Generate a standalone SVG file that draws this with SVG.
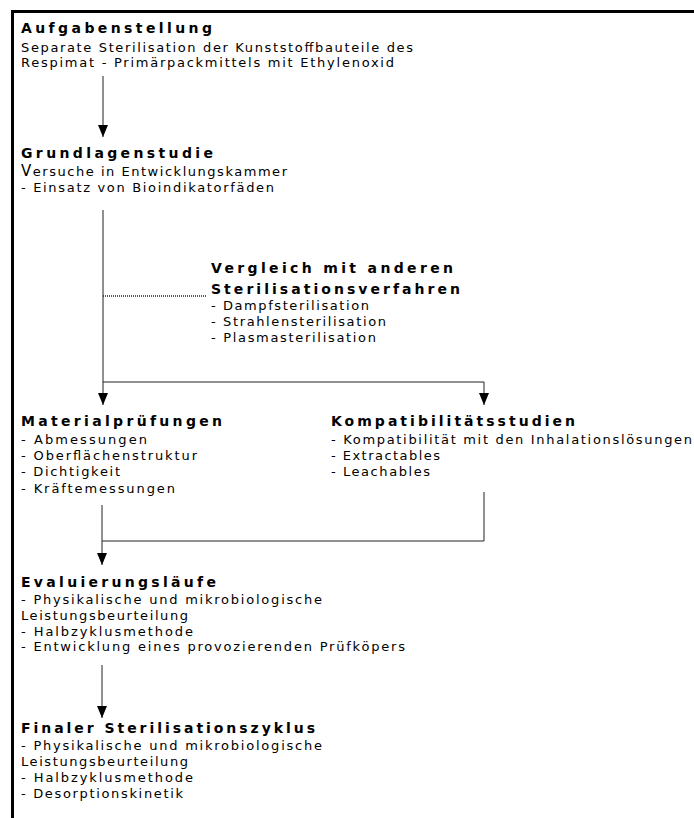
<svg xmlns="http://www.w3.org/2000/svg" width="694" height="818" viewBox="0 0 694 818">
<defs>
<style>
text{font-family:"DejaVu Sans","Verdana","Liberation Sans",sans-serif;fill:#000;}
.h{font-size:14px;font-weight:bold;}
.b{font-size:13px;}
.c{fill:none;stroke:#222;stroke-width:1;}
.dot{fill:none;stroke:#222;stroke-width:1.5;stroke-dasharray:1 1;}
.frame{fill:none;stroke:#000;stroke-width:3;stroke-linejoin:miter;}
</style>
<marker id="ah" markerUnits="userSpaceOnUse" markerWidth="12" markerHeight="10" refX="12" refY="5" orient="auto" viewBox="0 0 12 10">
<path d="M0,0 L12,5 L0,10 z" fill="#000"/>
</marker>
</defs>
<rect width="694" height="818" fill="#fff"/>
<path class="frame" d="M12.5,818 V11.5 H694"/>
<g id="connectors">
<path class="c" d="M103,76 V137" marker-end="url(#ah)"/>
<path class="c" d="M103,210 V405" marker-end="url(#ah)"/>
<path class="c" d="M103,382 H484 V405" marker-end="url(#ah)"/>
<path class="dot" d="M103,296 H207"/>
<path class="c" d="M102,505 V565" marker-end="url(#ah)"/>
<path class="c" d="M484,492 V541 H102"/>
<path class="c" d="M102,665 V718" marker-end="url(#ah)"/>
</g>
<g id="aufgabenstellung">
<text class="h" x="21" y="33" textLength="191" lengthAdjust="spacing">Aufgabenstellung</text>
<text class="b" x="21" y="51.5" textLength="392" lengthAdjust="spacing">Separate Sterilisation der Kunststoffbauteile des</text>
<text class="b" x="21" y="67" textLength="373" lengthAdjust="spacing">Respimat - Primärpackmittels mit Ethylenoxid</text>
</g>
<g id="grundlagenstudie">
<text class="h" x="21" y="158" textLength="192" lengthAdjust="spacing">Grundlagenstudie</text>
<text class="b" x="21" y="176" textLength="266" lengthAdjust="spacing"><tspan font-size="15">V</tspan>ersuche in Entwicklungskammer</text>
<text class="b" x="21" y="192" textLength="253" lengthAdjust="spacing">- Einsatz von Bioindikatorfäden</text>
</g>
<g id="vergleich">
<text class="h" x="211" y="273" textLength="242" lengthAdjust="spacing">Vergleich mit anderen</text>
<text class="h" x="211" y="293.5" textLength="249" lengthAdjust="spacing">Sterilisationsverfahren</text>
<text class="b" x="211" y="310" textLength="158" lengthAdjust="spacing">- Dampfsterilisation</text>
<text class="b" x="211" y="326" textLength="175" lengthAdjust="spacing">- Strahlensterilisation</text>
<text class="b" x="211" y="342" textLength="165" lengthAdjust="spacing">- Plasmasterilisation</text>
</g>
<g id="materialpruefungen">
<text class="h" x="21" y="425.5" textLength="201" lengthAdjust="spacing">Materialprüfungen</text>
<text class="b" x="21" y="444" textLength="126" lengthAdjust="spacing">- Abmessungen</text>
<text class="b" x="21" y="460" textLength="176" lengthAdjust="spacing">- Oberflächenstruktur</text>
<text class="b" x="21" y="476" textLength="99" lengthAdjust="spacing">- Dichtigkeit</text>
<text class="b" x="21" y="493" textLength="154" lengthAdjust="spacing">- Kräftemessungen</text>
</g>
<g id="kompatibilitaetsstudien">
<text class="h" x="331" y="425.5" textLength="244" lengthAdjust="spacing">Kompatibilitätsstudien</text>
<text class="b" x="331" y="444" textLength="361" lengthAdjust="spacing">- Kompatibilität mit den Inhalationslösungen</text>
<text class="b" x="331" y="460" textLength="109" lengthAdjust="spacing">- Extractables</text>
<text class="b" x="331" y="476" textLength="99" lengthAdjust="spacing">- Leachables</text>
</g>
<g id="evaluierungslaeufe">
<text class="h" x="21" y="587" textLength="195" lengthAdjust="spacing">Evaluierungsläufe</text>
<text class="b" x="21" y="604" textLength="301" lengthAdjust="spacing">- Physikalische und mikrobiologische</text>
<text class="b" x="21" y="620" textLength="167" lengthAdjust="spacing">Leistungsbeurteilung</text>
<text class="b" x="21" y="636" textLength="172" lengthAdjust="spacing">- Halbzyklusmethode</text>
<text class="b" x="21" y="651" textLength="384" lengthAdjust="spacing">- Entwicklung eines provozierenden Prüfköpers</text>
</g>
<g id="finaler-zyklus">
<text class="h" x="21" y="733" textLength="294" lengthAdjust="spacing">Finaler Sterilisationszyklus</text>
<text class="b" x="21" y="750" textLength="301" lengthAdjust="spacing">- Physikalische und mikrobiologische</text>
<text class="b" x="21" y="766" textLength="167" lengthAdjust="spacing">Leistungsbeurteilung</text>
<text class="b" x="21" y="782" textLength="172" lengthAdjust="spacing">- Halbzyklusmethode</text>
<text class="b" x="21" y="798" textLength="162" lengthAdjust="spacing">- Desorptionskinetik</text>
</g>
</svg>
